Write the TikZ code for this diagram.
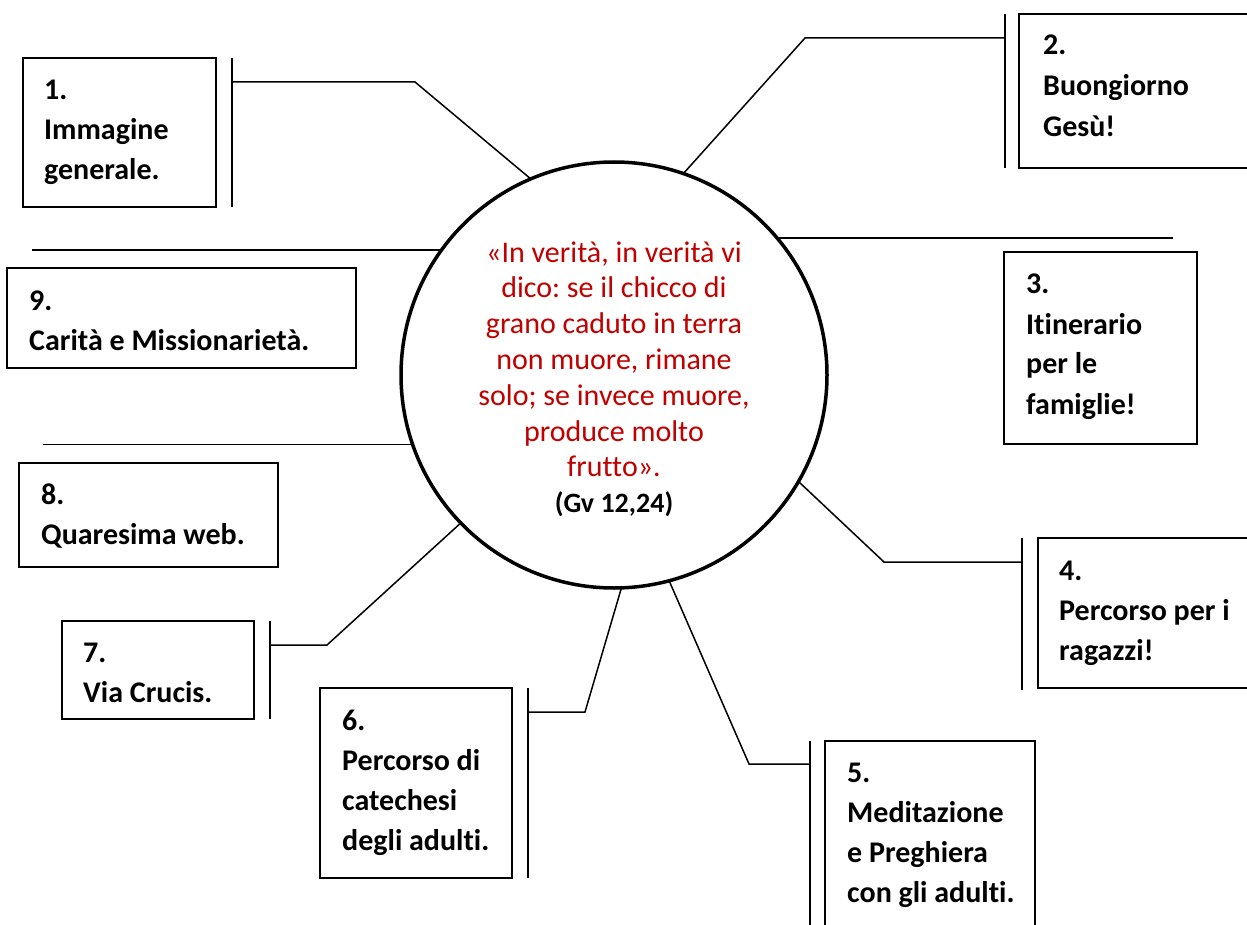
\documentclass[tikz,border=0pt]{standalone}
\usepackage{fontspec}
\setmainfont{Carlito}[Ligatures={TeX,NoCommon}]
\definecolor{quotered}{HTML}{C00000}
\frenchspacing
\tikzset{
  boxnode/.style={draw, line width=1.5pt, inner sep=0pt, outer sep=0pt, anchor=north west},
  lbl/.style={inner sep=0pt, anchor=base west, font=\fontsize{30}{40}\selectfont\bfseries},
  conn/.style={line width=1.5pt},
  barline/.style={line width=2pt},
}
\begin{document}
\begin{tikzpicture}[x=1pt,y=-1pt]
\clip (0,0) rectangle (1247,925);
\fill[white] (0,0) rectangle (1247,925);

% central circle
\node[circle, draw, line width=3.5pt, minimum size=426pt, inner sep=0pt, outer sep=0pt] (c) at (614,375) {};
\node[inner sep=0pt, anchor=base, align=center] (q) at (614,262)
  {\fontsize{30}{35.8}\selectfont\frenchspacing\begin{tabular}[t]{@{}c@{}}
  \color{quotered}«In verità, in verità vi\\
  \color{quotered}dico: se il chicco di\\
  \color{quotered}grano caduto in terra\\
  \color{quotered}non muore, rimane\\
  \color{quotered}solo; se invece muore,\\
  \color{quotered}produce molto\\
  \color{quotered}frutto».\\
  {\fontsize{28}{35.8}\selectfont\bfseries(Gv 12,24)}
  \end{tabular}};

% boxes
\node[boxnode, minimum width=193pt, minimum height=149pt] (b1) at (23,58) {};
\node[boxnode, minimum width=240pt, minimum height=154pt] (b2) at (1019,14) {};
\node[boxnode, minimum width=193pt, minimum height=192pt] (b3) at (1004,252) {};
\node[boxnode, minimum width=220pt, minimum height=150pt] (b4) at (1038,538) {};
\node[boxnode, minimum width=210pt, minimum height=200pt] (b5) at (825,741) {};
\node[boxnode, minimum width=192pt, minimum height=190pt] (b6) at (320,688) {};
\node[boxnode, minimum width=192pt, minimum height=98pt] (b7) at (62,621) {};
\node[boxnode, minimum width=259pt, minimum height=104pt] (b8) at (19,463) {};
\node[boxnode, minimum width=349pt, minimum height=100pt] (b9) at (7,268) {};

% box texts
\node[lbl] (t1) at (44,100) {\begin{tabular}[t]{@{}l@{}}1.\\Immagine\\generale.\end{tabular}};
\node[lbl, font=\fontsize{30}{41}\selectfont\bfseries] (t2) at (1043,55) {\begin{tabular}[t]{@{}l@{}}2.\\Buongiorno\\Gesù!\end{tabular}};
\node[lbl] (t3) at (1026,294) {\begin{tabular}[t]{@{}l@{}}3.\\Itinerario\\per le\\famiglie!\end{tabular}};
\node[lbl] (t4) at (1059,580) {\begin{tabular}[t]{@{}l@{}}4.\\Percorso per i\\ragazzi!\end{tabular}};
\node[lbl] (t5) at (847,782) {\begin{tabular}[t]{@{}l@{}}5.\\Meditazione\\e Preghiera\\con gli adulti.\end{tabular}};
\node[lbl] (t6) at (342,730) {\begin{tabular}[t]{@{}l@{}}6.\\Percorso di\\catechesi\\degli adulti.\end{tabular}};
\node[lbl] (t7) at (83,662) {\begin{tabular}[t]{@{}l@{}}7.\\Via Crucis.\end{tabular}};
\node[lbl] (t8) at (41,504) {\begin{tabular}[t]{@{}l@{}}8.\\Quaresima web.\end{tabular}};
\node[lbl] (t9) at (29,310) {\begin{tabular}[t]{@{}l@{}}9.\\Carità e Missionarietà.\end{tabular}};

% bars beside boxes
\coordinate (s1a) at (232,58);   \coordinate (s1b) at (232,207);
\coordinate (s2a) at (1005,14);  \coordinate (s2b) at (1005,168);
\coordinate (s4a) at (1022,538); \coordinate (s4b) at (1022,690);
\coordinate (s5a) at (810,741);  \coordinate (s5b) at (810,930);
\coordinate (s6a) at (528,688);  \coordinate (s6b) at (528,878);
\coordinate (s7a) at (270,621);  \coordinate (s7b) at (270,719);
\foreach \i in {1,2,4,5,6,7} {\draw[barline] (s\i a) -- (s\i b);}

% bends and ends
\coordinate (k1) at (415,82);  \coordinate (p1) at (232,82);
\coordinate (k2) at (805,38);  \coordinate (p2) at (1005,38);
\coordinate (e3) at (1173,236);
\coordinate (k4) at (884,562); \coordinate (p4) at (1022,562);
\coordinate (k5) at (749,764); \coordinate (p5) at (810,764);
\coordinate (k6) at (585,712); \coordinate (p6) at (528,712);
\coordinate (k7) at (327,645); \coordinate (p7) at (270,645);
\coordinate (e8) at (43,447);
\coordinate (e9) at (32,252);

% connectors
\draw[conn] (c.113.3) -- (k1) -- (p1);
\draw[conn] (c.71.5) -- (k2) -- (p2);
\draw[conn] (c.40.8) -- (c.40.8 -| e3);
\draw[conn] (c.-30.4) -- (k4) -- (p4);
\draw[conn] (c.-75.6) -- (k5) -- (p5);
\draw[conn] (c.-88.1) -- (k6) -- (p6);
\draw[conn] (c.224.1) -- (k7) -- (p7);
\draw[conn] (c.199.8) -- (c.199.8 -| e8);
\draw[conn] (c.144.7) -- (c.144.7 -| e9);
\end{tikzpicture}
\end{document}
